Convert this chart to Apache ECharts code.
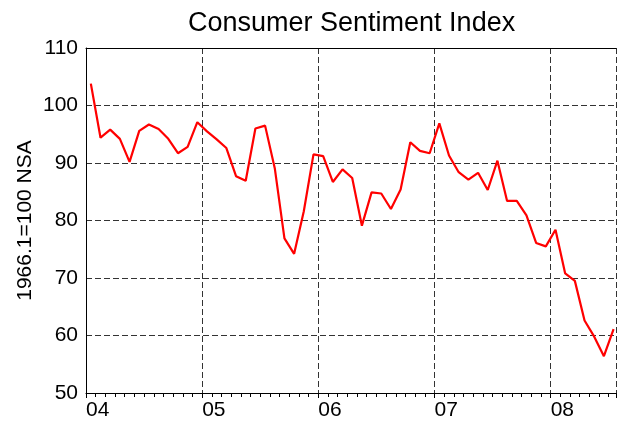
<!DOCTYPE html>
<html>
<head>
<meta charset="utf-8">
<script src="https://cdn.jsdelivr.net/npm/echarts@6/dist/echarts.min.js"></script>
<style>
  html, body { margin: 0; padding: 0; background: #fff; }
  #chart { width: 619px; height: 423px; }
</style>
</head>
<body>
<div id="chart"></div>
<script>
// monthly readings, Jan 2004 .. Jul 2008
var months = [
  '2004-01','2004-02','2004-03','2004-04','2004-05','2004-06','2004-07','2004-08','2004-09','2004-10','2004-11','2004-12',
  '2005-01','2005-02','2005-03','2005-04','2005-05','2005-06','2005-07','2005-08','2005-09','2005-10','2005-11','2005-12',
  '2006-01','2006-02','2006-03','2006-04','2006-05','2006-06','2006-07','2006-08','2006-09','2006-10','2006-11','2006-12',
  '2007-01','2007-02','2007-03','2007-04','2007-05','2007-06','2007-07','2007-08','2007-09','2007-10','2007-11','2007-12',
  '2008-01','2008-02','2008-03','2008-04','2008-05','2008-06','2008-07'
];
var sentiment = [
  103.8, 94.4, 95.8, 94.2, 90.2, 95.6, 96.7, 95.9, 94.2, 91.7, 92.8, 97.1,
  95.5, 94.1, 92.6, 87.7, 86.9, 96.0, 96.5, 89.1, 76.9, 74.2, 81.6, 91.5,
  91.2, 86.7, 88.9, 87.4, 79.1, 84.9, 84.7, 82.0, 85.4, 93.6, 92.1, 91.7,
  96.9, 91.3, 88.4, 87.1, 88.3, 85.3, 90.4, 83.4, 83.4, 80.9, 76.1, 75.5,
  78.4, 70.8, 69.5, 62.6, 59.8, 56.4, 61.1
];
var yearLabels = ['04', '05', '06', '07', '08'];

var FONT = "'Liberation Sans', Arial, sans-serif";

// month offset from Jan 2004, plotted mid-month
var points = months.map(function (m, i) {
  var p = m.split('-');
  var x = (parseInt(p[0], 10) - 2004) * 12 + (parseInt(p[1], 10) - 1) + 0.5;
  return [x, sentiment[i]];
});

var chart = echarts.init(document.getElementById('chart'), null, { renderer: 'canvas' });
var gridLine = { show: true, lineStyle: { color: '#333', type: [6, 3], width: 1 } };

chart.setOption({
  animation: false,
  backgroundColor: '#fff',
  title: {
    text: 'Consumer Sentiment Index',
    left: 188,
    top: 10,
    padding: 0,
    textStyle: { fontFamily: FONT, fontSize: 27, fontWeight: 'normal', color: '#000' }
  },
  grid: { left: 86, right: 0, top: 48, bottom: 30 },
  xAxis: [{
    type: 'value',
    min: 0,
    max: 54.75,
    interval: 12,
    axisLine: { show: true, onZero: false, lineStyle: { color: '#000', width: 1 } },
    axisTick: { show: true, inside: false, length: 5, lineStyle: { color: '#000' } },
    minorTick: { show: true, splitNumber: 12, length: 4, lineStyle: { color: '#000' } },
    axisLabel: {
      align: 'left',
      margin: 7,
      fontFamily: FONT,
      fontSize: 21,
      color: '#000',
      formatter: function (v) {
        var k = Math.round(v / 12);
        return (Math.abs(v - k * 12) < 1e-6 && yearLabels[k]) ? yearLabels[k] : '';
      }
    },
    splitLine: gridLine
  }, {
    type: 'value',
    position: 'top',
    min: 0,
    max: 54.75,
    axisLine: { show: true, onZero: false, lineStyle: { color: '#000', width: 1 } },
    axisTick: { show: false },
    axisLabel: { show: false },
    splitLine: { show: false }
  }],
  yAxis: {
    type: 'value',
    min: 50,
    max: 110,
    interval: 10,
    name: '1966.1=100 NSA',
    nameLocation: 'middle',
    nameRotate: 90,
    nameGap: 50,
    nameMoveOverlap: false,
    nameTextStyle: { fontFamily: FONT, fontSize: 21, color: '#000' },
    axisLine: { show: true, onZero: false, lineStyle: { color: '#000', width: 1 } },
    axisTick: { show: false },
    axisLabel: { margin: 8, fontFamily: FONT, fontSize: 21, color: '#000' },
    splitLine: gridLine
  },
  series: [{
    type: 'line',
    data: points,
    showSymbol: false,
    symbol: 'none',
    lineStyle: { color: '#ff0000', width: 2.2 },
    z: 5
  }]
});
</script>
</body>
</html>
